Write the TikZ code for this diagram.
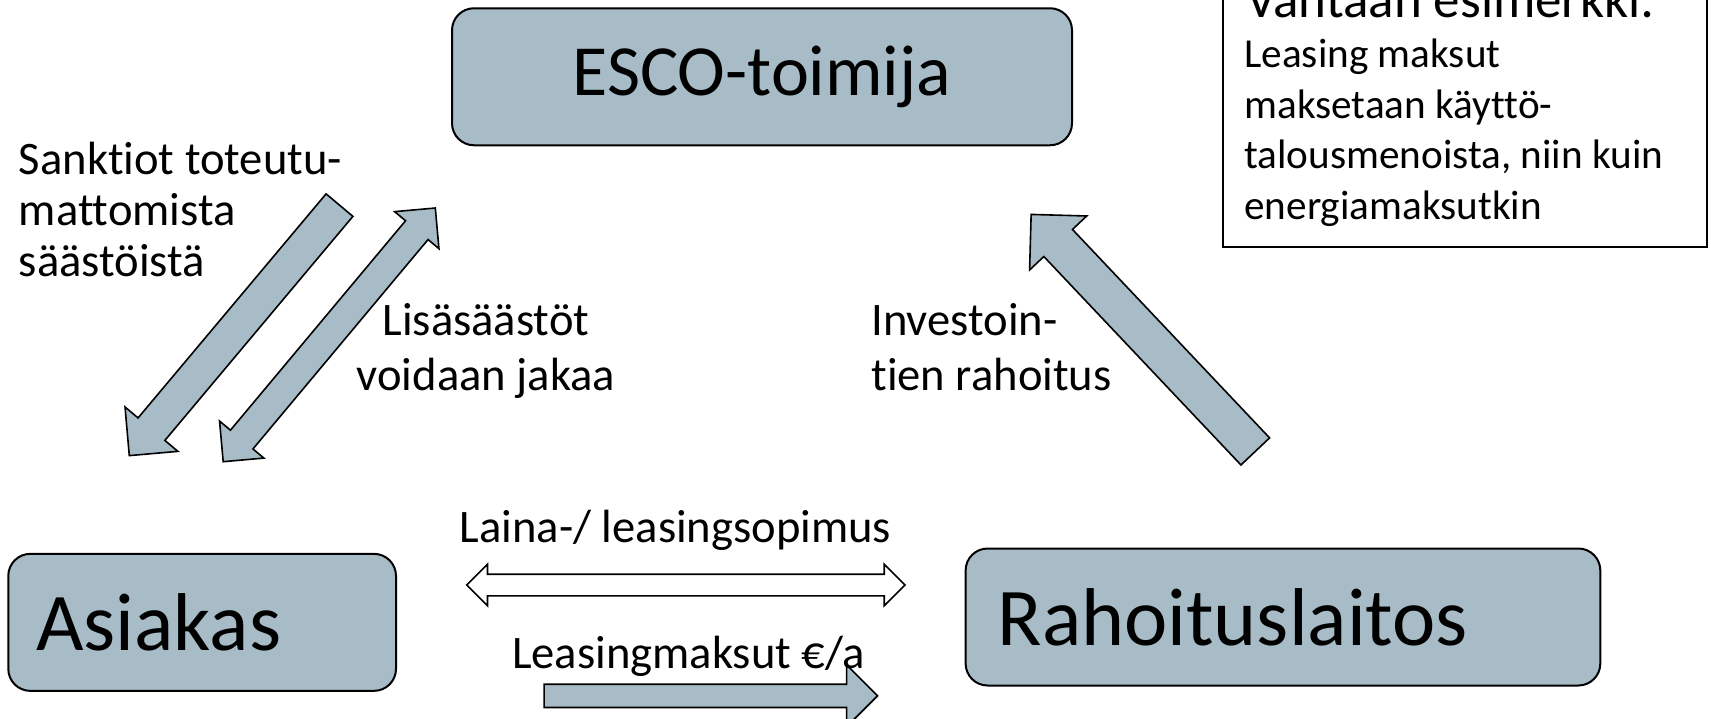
\documentclass[tikz,border=0pt]{standalone}
\usepackage{fontspec}
\setmainfont{Carlito}[Ligatures=NoCommon]
\usepackage{xcolor}
\usetikzlibrary{shapes.arrows}

\definecolor{boxblue}{RGB}{167,188,199}

\begin{document}
\begin{tikzpicture}[x=0.5pt, y=-0.5pt]
    \tikzstyle{party} = [draw=black, line width=1pt, fill=boxblue, rounded corners=11pt, minimum height=68.5pt, inner sep=0pt]
    \tikzstyle{note} = [font=\fontsize{23.3}{25.4}\selectfont, inner sep=0pt, align=left]
    \tikzstyle{flow} = [single arrow, draw=black, line width=0.8pt, fill=boxblue, inner xsep=0pt, single arrow head indent=0pt]
    \tikzstyle{twoway} = [double arrow, draw=black, line width=0.8pt, fill=boxblue, inner xsep=0pt, double arrow head indent=0pt]

    \useasboundingbox (0,0) rectangle (1711,718);
    \clip (0,0) rectangle (1711,718);

    % osapuolet
    \node [party, minimum width=310pt] (esco) at (762, 76.75) {\fontsize{36}{43}\selectfont ESCO-toimija};
    \node [party, minimum width=193.85pt, inner xsep=14pt, text width=165.85pt] (asiakas) at (202.15, 622.35) {\fontsize{41}{49}\selectfont Asiakas};
    \node [party, minimum width=317.35pt, inner xsep=16pt, text width=285.35pt] (rahoittaja) at (1282.95, 617) {\fontsize{41}{49}\selectfont Rahoituslaitos};

    % nuolet
    \node [flow, rotate=230, minimum height=163.5pt, inner ysep=8.35pt, single arrow head extend=8.5pt, anchor=tail] (sanktio) at (340, 204.5) {};
    \node [twoway, rotate=50.1, minimum height=165.35pt, inner ysep=6.93pt, double arrow head extend=7.1pt] (jako) at (329.25, 334.85) {};
    \node [flow, rotate=133.4, minimum height=163.1pt, inner ysep=9.45pt, single arrow head extend=9.8pt, anchor=tail] (investointi) at (1255.8, 452) {};
    \node [twoway, fill=white, minimum height=219.15pt, inner ysep=5pt, double arrow head extend=5pt] (sopimus) at (685.85, 585) {};
    \node [flow, minimum height=166.7pt, inner ysep=5.42pt, single arrow head extend=9.6pt, anchor=tail] (maksu) at (543.3, 695.85) {};

    % tekstit (base = viimeisen rivin perusviiva)
    \node [note, anchor=base west] (sanktioteksti) at (18.5, 276) {Sanktiot toteutu-\\mattomista\\säästöistä};
    \node [note, font=\fontsize{23.3}{27.5}\selectfont, align=center, anchor=base] (jakoteksti) at (486, 390) {Lisäsäästöt\\voidaan jakaa};
    \node [note, font=\fontsize{23.3}{27.5}\selectfont, anchor=base west] (investointiteksti) at (871, 390) {Investoin-\\tien rahoitus};
    \node [note, anchor=base] (sopimusteksti) at (675.5, 542) {Laina-/ leasingsopimus};
    \node [note, anchor=base] (maksuteksti) at (688.5, 668) {Leasingmaksut €/a};

    % esimerkki
    \draw [line width=0.8pt] (1223, -60) rectangle (1707, 247);
    \node [note, font=\fontsize{26.5}{30}\selectfont, anchor=base west] (otsikko) at (1246, 17) {Vantaan esimerkki:};
    \node [note, font=\fontsize{20.6}{25.2}\selectfont, anchor=base west] (esimerkki) at (1244, 219) {Leasing maksut\\maksetaan käyttö-\\talousmenoista, niin kuin\\energiamaksutkin};
\end{tikzpicture}
\end{document}
